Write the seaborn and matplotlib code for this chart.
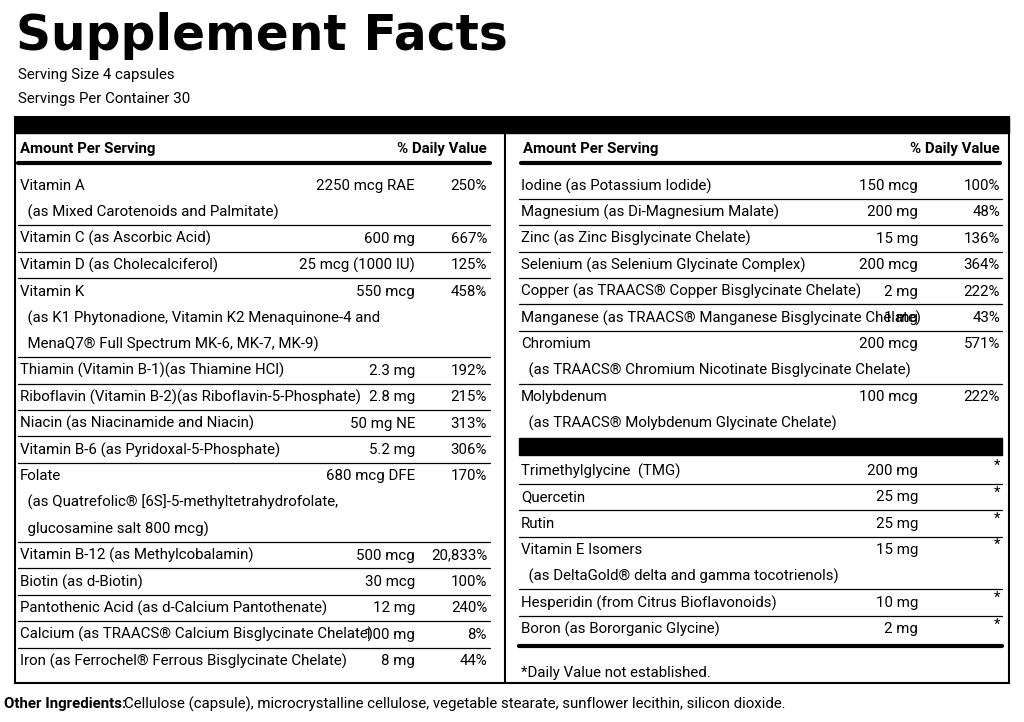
import matplotlib
matplotlib.use('Agg')
import matplotlib.pyplot as plt
import seaborn as sns

sns.set_theme(style='white')
plt.rcParams['font.family'] = ['Liberation Sans Narrow', 'Roboto', 'DejaVu Sans']
plt.rcParams['text.color'] = 'black'

# ---- label data ----
left_names = [
    ['Vitamin A', '  (as Mixed Carotenoids and Palmitate)'],
    ['Vitamin C (as Ascorbic Acid)'],
    ['Vitamin D (as Cholecalciferol)'],
    ['Vitamin K', '  (as K1 Phytonadione, Vitamin K2 Menaquinone-4 and',
     '  MenaQ7® Full Spectrum MK-6, MK-7, MK-9)'],
    ['Thiamin (Vitamin B-1)(as Thiamine HCl)'],
    ['Riboflavin (Vitamin B-2)(as Riboflavin-5-Phosphate)'],
    ['Niacin (as Niacinamide and Niacin)'],
    ['Vitamin B-6 (as Pyridoxal-5-Phosphate)'],
    ['Folate', '  (as Quatrefolic® [6S]-5-methyltetrahydrofolate,',
     '  glucosamine salt 800 mcg)'],
    ['Vitamin B-12 (as Methylcobalamin)'],
    ['Biotin (as d-Biotin)'],
    ['Pantothenic Acid (as d-Calcium Pantothenate)'],
    ['Calcium (as TRAACS® Calcium Bisglycinate Chelate)'],
    ['Iron (as Ferrochel® Ferrous Bisglycinate Chelate)'],
]
left_amounts = ['2250 mcg RAE', '600 mg', '25 mcg (1000 IU)', '550 mcg', '2.3 mg',
                '2.8 mg', '50 mg NE', '5.2 mg', '680 mcg DFE', '500 mcg', '30 mcg',
                '12 mg', '100 mg', '8 mg']
left_dvs = ['250%', '667%', '125%', '458%', '192%', '215%', '313%', '306%', '170%',
            '20,833%', '100%', '240%', '8%', '44%']

right_names = [
    ['Iodine (as Potassium Iodide)'],
    ['Magnesium (as Di-Magnesium Malate)'],
    ['Zinc (as Zinc Bisglycinate Chelate)'],
    ['Selenium (as Selenium Glycinate Complex)'],
    ['Copper (as TRAACS® Copper Bisglycinate Chelate)'],
    ['Manganese (as TRAACS® Manganese Bisglycinate Chelate)'],
    ['Chromium', '  (as TRAACS® Chromium Nicotinate Bisglycinate Chelate)'],
    ['Molybdenum', '  (as TRAACS® Molybdenum Glycinate Chelate)'],
]
right_amounts = ['150 mcg', '200 mg', '15 mg', '200 mcg', '2 mg', '1 mg', '200 mcg', '100 mcg']
right_dvs = ['100%', '48%', '136%', '364%', '222%', '43%', '571%', '222%']

other_names = [
    ['Trimethylglycine  (TMG)'],
    ['Quercetin'],
    ['Rutin'],
    ['Vitamin E Isomers', '  (as DeltaGold® delta and gamma tocotrienols)'],
    ['Hesperidin (from Citrus Bioflavonoids)'],
    ['Boron (as Bororganic Glycine)'],
]
other_amounts = ['200 mg', '25 mg', '25 mg', '15 mg', '10 mg', '2 mg']

PITCH = 26.4
FS = 10.8

fig = plt.figure(figsize=(10.24, 7.22), dpi=100)
ax = fig.add_axes([0, 0, 1, 1])
ax.set_xlim(0, 1024)
ax.set_ylim(722, 0)
ax.axis('off')


def draw_rows(names, amounts, dvs, x0, x1, xamt, xdv, y):
    for i, (lines, amt) in enumerate(zip(names, amounts)):
        if i > 0:
            ax.plot([x0, x1], [y - 13.5, y - 13.5], color='black', lw=0.9)
        for j, ln in enumerate(lines):
            ax.text(x0 + 2, y + j * PITCH, ln, fontsize=FS, va='center', ha='left')
        ax.text(xamt, y, amt, fontsize=FS, va='center', ha='right')
        if dvs is not None:
            ax.text(xdv, y, dvs[i], fontsize=FS, va='center', ha='right')
        else:
            ax.text(xdv, y - 5, '*', fontsize=FS, va='center', ha='right')
        y += PITCH * len(lines)
    return y


# title and serving info
ax.text(16, 36, 'Supplement Facts', fontsize=35, fontweight='bold', va='center',
        ha='left', family=['DejaVu Sans'])
ax.text(18, 75, 'Serving Size 4 capsules', fontsize=FS, va='center')
ax.text(18, 99, 'Servings Per Container 30', fontsize=FS, va='center')

# frame
ax.add_patch(plt.Rectangle((15, 117), 994, 566, fill=False, lw=1.5, ec='black'))
ax.add_patch(plt.Rectangle((15, 117), 994, 16, color='black'))
ax.plot([505, 505], [117, 683], color='black', lw=1.5)

# headers
for x0, x1, xdv in [(18, 490, 487), (521, 1000, 1000)]:
    ax.text(x0 + 2, 149, 'Amount Per Serving', fontsize=FS, fontweight='bold', va='center')
    ax.text(xdv, 149, '% Daily Value', fontsize=FS, fontweight='bold', va='center', ha='right')
    ax.plot([x0, x1], [163, 163], color='black', lw=3)

draw_rows(left_names, left_amounts, left_dvs, 18, 490, 415, 487, 186)
draw_rows(right_names, right_amounts, right_dvs, 519, 1002, 918, 1000, 186)
ax.add_patch(plt.Rectangle((519, 438), 483, 17, color='black'))
draw_rows(other_names, other_amounts, None, 519, 1002, 918, 1000, 471)
ax.plot([519, 1002], [646, 646], color='black', lw=3)
ax.text(521, 673, '*Daily Value not established.', fontsize=FS, va='center')

ax.text(4, 704, 'Other Ingredients:', fontsize=FS, fontweight='bold', va='center')
ax.text(124, 704, 'Cellulose (capsule), microcrystalline cellulose, vegetable stearate, '
        'sunflower lecithin, silicon dioxide.', fontsize=FS, va='center')

fig.savefig('out.png', dpi=100, facecolor='white')
